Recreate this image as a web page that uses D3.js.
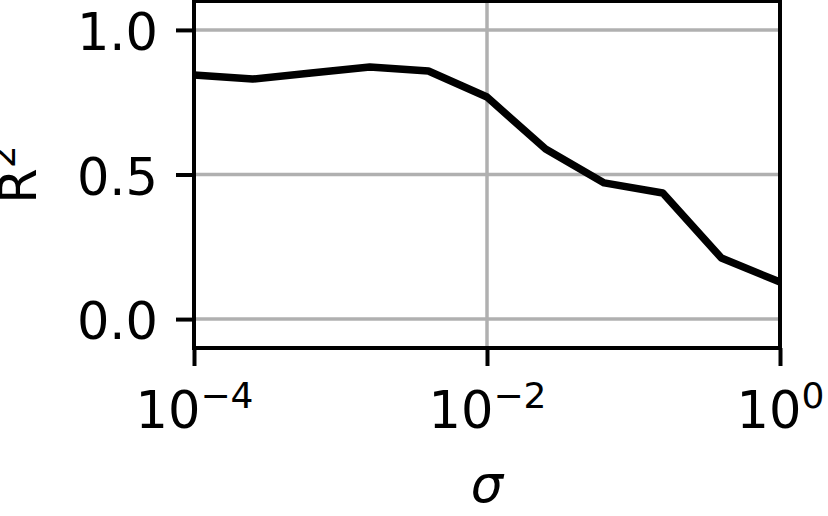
<!DOCTYPE html>
<html>
<head>
<meta charset="utf-8">
<script src="https://cdn.jsdelivr.net/npm/d3@7"></script>
<style>
  body { margin: 0; background: #fff; }
  svg { display: block; font-family: "DejaVu Sans", sans-serif; }
</style>
</head>
<body>
<svg id="chart" width="828" height="516"></svg>
<script>
// sigma values (log spaced, 0.4 decades apart) and R^2
var sigmas = [1e-4, 2.512e-4, 6.31e-4, 1.585e-3, 3.981e-3, 1e-2, 2.512e-2, 6.31e-2, 1.585e-1, 3.981e-1, 1];
var r2 = [0.844, 0.830, 0.851, 0.872, 0.858, 0.768, 0.588, 0.471, 0.436, 0.211, 0.128];

var xTicks = [1e-4, 1e-2, 1];
var xTickExp = ["\u22124", "\u22122", "0"];
var yTicks = [0, 0.5, 1.0];

var svg = d3.select("#chart");

var margin = {top: 1, right: 48, bottom: 168, left: 194},
    width = 828 - margin.left - margin.right,
    height = 516 - margin.top - margin.bottom;

var x = d3.scaleLog().domain([1e-4, 1]).range([0, width]);
var y = d3.scaleLinear().domain([-0.1, 1.1]).range([height, 0]);

var g = svg.append("g").attr("transform", "translate(" + margin.left + "," + margin.top + ")");

// grid
g.selectAll(".xgrid").data(xTicks).enter().append("line")
    .attr("x1", function(d){ return x(d) }).attr("x2", function(d){ return x(d) })
    .attr("y1", 0).attr("y2", height)
    .attr("stroke", "#b0b0b0").attr("stroke-width", 3.5)
g.selectAll(".ygrid").data(yTicks).enter().append("line")
    .attr("x1", 0).attr("x2", width)
    .attr("y1", function(d){ return y(d) }).attr("y2", function(d){ return y(d) })
    .attr("stroke", "#b0b0b0").attr("stroke-width", 3.5)

// data line
var valueLine = d3.line()
    .x(function(d, i){ return x(sigmas[i]) })
    .y(function(d){ return y(d) })

g.append("path")
    .datum(r2)
    .attr("fill", "none")
    .attr("stroke", "#000")
    .attr("stroke-width", 7.5)
    .attr("stroke-linejoin", "round")
    .attr("d", valueLine)

// axes
var xAxis = d3.axisBottom(x).tickValues(xTicks).tickSize(18).tickPadding(18).tickFormat(function(){ return "" });
var yAxis = d3.axisLeft(y).tickValues(yTicks).tickSize(18).tickPadding(18).tickFormat(d3.format(".1f"));

var gx = g.append("g").attr("transform", "translate(0," + height + ")").call(xAxis);
var gy = g.append("g").call(yAxis);

[gx, gy].forEach(function(a){
    a.select(".domain").remove();
    a.selectAll(".tick line").attr("stroke", "#000").attr("stroke-width", 4);
    a.selectAll(".tick text").attr("fill", "#000").attr("font-size", 51).attr("font-family", "DejaVu Sans");
})

gy.selectAll(".tick text").attr("dy", "0.39em");

gx.selectAll(".tick text")
    .attr("dy", null)
    .attr("y", 80)
    .each(function(d, i){
        var t = d3.select(this);
        t.text("10");
        t.append("tspan").attr("font-size", 36).attr("dy", -20).text(xTickExp[i]);
    })

// spines
g.append("rect")
    .attr("x", 0).attr("y", 0).attr("width", width).attr("height", height)
    .attr("fill", "none").attr("stroke", "#000").attr("stroke-width", 4)

// labels
svg.append("text")
    .attr("x", margin.left + width / 2)
    .attr("y", 502)
    .attr("text-anchor", "middle")
    .attr("font-size", 51)
    .attr("font-style", "italic")
    .text("\u03c3")

var yl = svg.append("text")
    .attr("transform", "translate(36," + (margin.top + height / 2) + ") rotate(-90)")
    .attr("text-anchor", "middle")
    .attr("font-size", 51)
    .text("R")
yl.append("tspan").attr("font-size", 36).attr("dy", -21).text("2")
</script>
</body>
</html>
